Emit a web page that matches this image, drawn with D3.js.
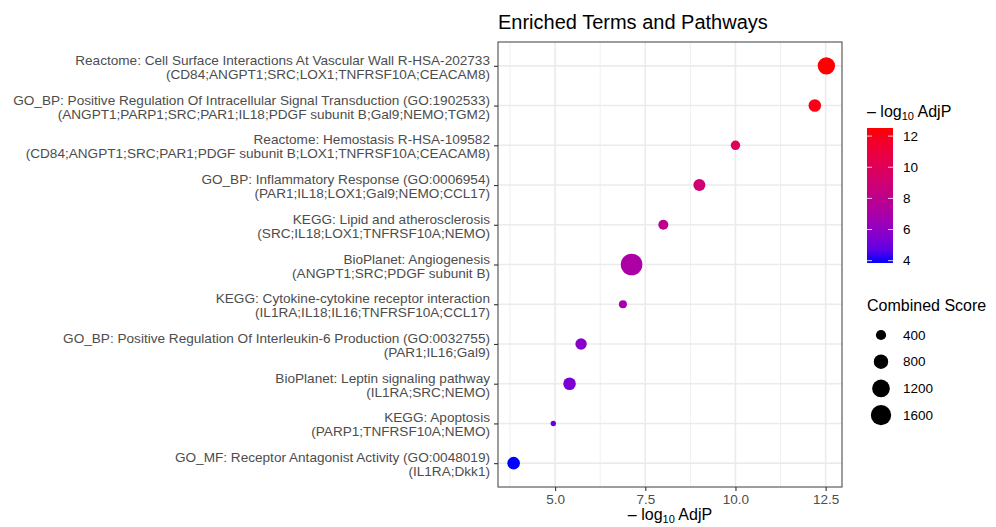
<!DOCTYPE html>
<html>
<head>
<meta charset="utf-8">
<script src="https://cdn.jsdelivr.net/npm/d3@7"></script>
<style>
  body { margin: 0; background: #fff; }
  text { font-family: "Liberation Sans", Arial, sans-serif; }
</style>
</head>
<body>
<svg id="chart" width="996" height="527"></svg>
<script>
'use strict'

// terms, top to bottom
const termNames = [
  'Reactome: Cell Surface Interactions At Vascular Wall R-HSA-202733',
  'GO_BP: Positive Regulation Of Intracellular Signal Transduction (GO:1902533)',
  'Reactome: Hemostasis R-HSA-109582',
  'GO_BP: Inflammatory Response (GO:0006954)',
  'KEGG: Lipid and atherosclerosis',
  'BioPlanet: Angiogenesis',
  'KEGG: Cytokine-cytokine receptor interaction',
  'GO_BP: Positive Regulation Of Interleukin-6 Production (GO:0032755)',
  'BioPlanet: Leptin signaling pathway',
  'KEGG: Apoptosis',
  'GO_MF: Receptor Antagonist Activity (GO:0048019)'
]
const termGenes = [
  '(CD84;ANGPT1;SRC;LOX1;TNFRSF10A;CEACAM8)',
  '(ANGPT1;PARP1;SRC;PAR1;IL18;PDGF subunit B;Gal9;NEMO;TGM2)',
  '(CD84;ANGPT1;SRC;PAR1;PDGF subunit B;LOX1;TNFRSF10A;CEACAM8)',
  '(PAR1;IL18;LOX1;Gal9;NEMO;CCL17)',
  '(SRC;IL18;LOX1;TNFRSF10A;NEMO)',
  '(ANGPT1;SRC;PDGF subunit B)',
  '(IL1RA;IL18;IL16;TNFRSF10A;CCL17)',
  '(PAR1;IL16;Gal9)',
  '(IL1RA;SRC;NEMO)',
  '(PARP1;TNFRSF10A;NEMO)',
  '(IL1RA;Dkk1)'
]
const negLogAdjP = [12.52, 12.2, 10.0, 9.0, 8.0, 7.12, 6.88, 5.72, 5.4, 4.95, 3.85]
const combinedScore = [1160, 610, 340, 555, 385, 1790, 246, 500, 610, 112, 610]

const xMajorTicks = [5.0, 7.5, 10.0, 12.5]
const xMinorTicks = [3.75, 6.25, 8.75, 11.25]
const colorTicks = [4, 6, 8, 10, 12]
const sizeBreaks = [400, 800, 1200, 1600]

const data = termNames.map((name, i) => ({
  id: i, name, genes: termGenes[i], p: negLogAdjP[i], score: combinedScore[i]
}))

const PANEL = { left: 498, right: 842, top: 42, bottom: 487 }
const TEXT_GREY = '#4d4d4d'
const GRID = '#ebebeb'

const svg = d3.select('#chart')

// scales
const [pMin, pMax] = d3.extent(negLogAdjP)
const pad = (pMax - pMin) * 0.05
const x = d3.scaleLinear().domain([pMin - pad, pMax + pad]).range([PANEL.left, PANEL.right])
const y = d3.scalePoint().domain(data.map((d) => d.id)).range([PANEL.top, PANEL.bottom]).padding(0.6)
const color = d3.scaleLinear().domain([pMin, pMax]).range(['blue', 'red']).interpolate(d3.interpolateLab)
const radius = d3.scaleSqrt().domain([0, 2000]).range([0, 11.4])

// grid
const grid = svg.append('g').attr('class', 'grid')
grid.selectAll('line.minor').data(xMinorTicks).enter().append('line')
  .attr('x1', (d) => x(d)).attr('x2', (d) => x(d))
  .attr('y1', PANEL.top).attr('y2', PANEL.bottom)
  .attr('stroke', GRID).attr('stroke-width', 0.8)
grid.selectAll('line.major').data(xMajorTicks).enter().append('line')
  .attr('x1', (d) => x(d)).attr('x2', (d) => x(d))
  .attr('y1', PANEL.top).attr('y2', PANEL.bottom)
  .attr('stroke', GRID).attr('stroke-width', 1.6)
grid.selectAll('line.row').data(data).enter().append('line')
  .attr('x1', PANEL.left).attr('x2', PANEL.right)
  .attr('y1', (d) => y(d.id)).attr('y2', (d) => y(d.id))
  .attr('stroke', GRID).attr('stroke-width', 1.6)

// points
svg.append('g').attr('class', 'points')
  .selectAll('circle').data(data).enter().append('circle')
  .attr('cx', (d) => x(d.p)).attr('cy', (d) => y(d.id))
  .attr('r', (d) => radius(d.score))
  .attr('fill', (d) => color(d.p))

// panel border
svg.append('rect')
  .attr('x', PANEL.left).attr('y', PANEL.top)
  .attr('width', PANEL.right - PANEL.left).attr('height', PANEL.bottom - PANEL.top)
  .attr('fill', 'none').attr('stroke', '#4d4d4d').attr('stroke-width', 1.1)

// x axis
const xAxis = svg.append('g')
  .attr('transform', `translate(0,${PANEL.bottom})`)
  .call(d3.axisBottom(x).tickValues(xMajorTicks).tickFormat(d3.format('.1f')).tickSize(4).tickPadding(3))
xAxis.select('.domain').remove()
xAxis.selectAll('line').attr('stroke', '#333').attr('stroke-width', 1.1)
xAxis.selectAll('text').attr('fill', TEXT_GREY).style('font-size', '13.5px')
  .style('font-family', '"Liberation Sans", Arial, sans-serif')

// y axis
const yAxis = svg.append('g')
  .attr('transform', `translate(${PANEL.left},0)`)
  .call(d3.axisLeft(y).tickSize(4).tickFormat(''))
yAxis.select('.domain').remove()
yAxis.selectAll('line').attr('stroke', '#333').attr('stroke-width', 1.1)

const yLabels = svg.append('g').selectAll('text').data(data).enter().append('text')
  .attr('text-anchor', 'end').attr('fill', TEXT_GREY).style('font-size', '13.6px')
  .attr('transform', (d) => `translate(${PANEL.left - 8},${y(d.id)})`)
yLabels.append('tspan').attr('x', 0).attr('y', -1).text((d) => d.name)
yLabels.append('tspan').attr('x', 0).attr('y', 13).text((d) => d.genes)

// axis title
const xTitle = svg.append('text')
  .attr('x', (PANEL.left + PANEL.right) / 2).attr('y', 520)
  .attr('text-anchor', 'middle').attr('fill', '#000').style('font-size', '16px')
xTitle.append('tspan').text('\u2013  log')
xTitle.append('tspan').attr('dy', 3).style('font-size', '11px').text('10')
xTitle.append('tspan').attr('dy', -3).text(' AdjP')

// title
svg.append('text').attr('x', PANEL.left).attr('y', 29)
  .attr('fill', '#000').style('font-size', '20px')
  .text('Enriched Terms and Pathways')

// colour legend
const LEG_X = 867
const cTitle = svg.append('text').attr('x', LEG_X).attr('y', 117)
  .attr('fill', '#000').style('font-size', '16px')
cTitle.append('tspan').text('\u2013  log')
cTitle.append('tspan').attr('dy', 3).style('font-size', '11px').text('10')
cTitle.append('tspan').attr('dy', -3).text(' AdjP')

const barTop = 128, barBottom = 263, barW = 26
const cy = d3.scaleLinear().domain([pMin, pMax]).range([barBottom, barTop])
const grad = svg.append('defs').append('linearGradient')
  .attr('id', 'cbar').attr('x1', 0).attr('y1', 1).attr('x2', 0).attr('y2', 0)
d3.range(0, 1.0001, 0.1).forEach((t) => {
  grad.append('stop').attr('offset', t).attr('stop-color', color(pMin + t * (pMax - pMin)))
})
svg.append('rect').attr('x', LEG_X).attr('y', barTop)
  .attr('width', barW).attr('height', barBottom - barTop).attr('fill', 'url(#cbar)')
const cTicks = svg.append('g').selectAll('g').data(colorTicks).enter().append('g')
  .attr('transform', (d) => `translate(0,${cy(d)})`)
cTicks.append('line').attr('x1', LEG_X).attr('x2', LEG_X + 5).attr('stroke', '#fff').attr('opacity', 0.8)
cTicks.append('line').attr('x1', LEG_X + barW - 5).attr('x2', LEG_X + barW).attr('stroke', '#fff').attr('opacity', 0.8)
cTicks.append('text').attr('x', LEG_X + 36).attr('dy', '0.35em')
  .attr('fill', '#000').style('font-size', '13.5px').text((d) => d)

// size legend
svg.append('text').attr('x', LEG_X).attr('y', 311)
  .attr('fill', '#000').style('font-size', '16px').text('Combined Score')
const sizeKeys = svg.append('g').selectAll('g').data(sizeBreaks).enter().append('g')
  .attr('transform', (d, i) => `translate(0,${335 + i * 26.7})`)
sizeKeys.append('circle').attr('cx', LEG_X + 14).attr('r', (d) => radius(d)).attr('fill', '#000')
sizeKeys.append('text').attr('x', LEG_X + 36).attr('dy', '0.35em')
  .attr('fill', '#000').style('font-size', '13.5px').text((d) => d)
</script>
</body>
</html>
